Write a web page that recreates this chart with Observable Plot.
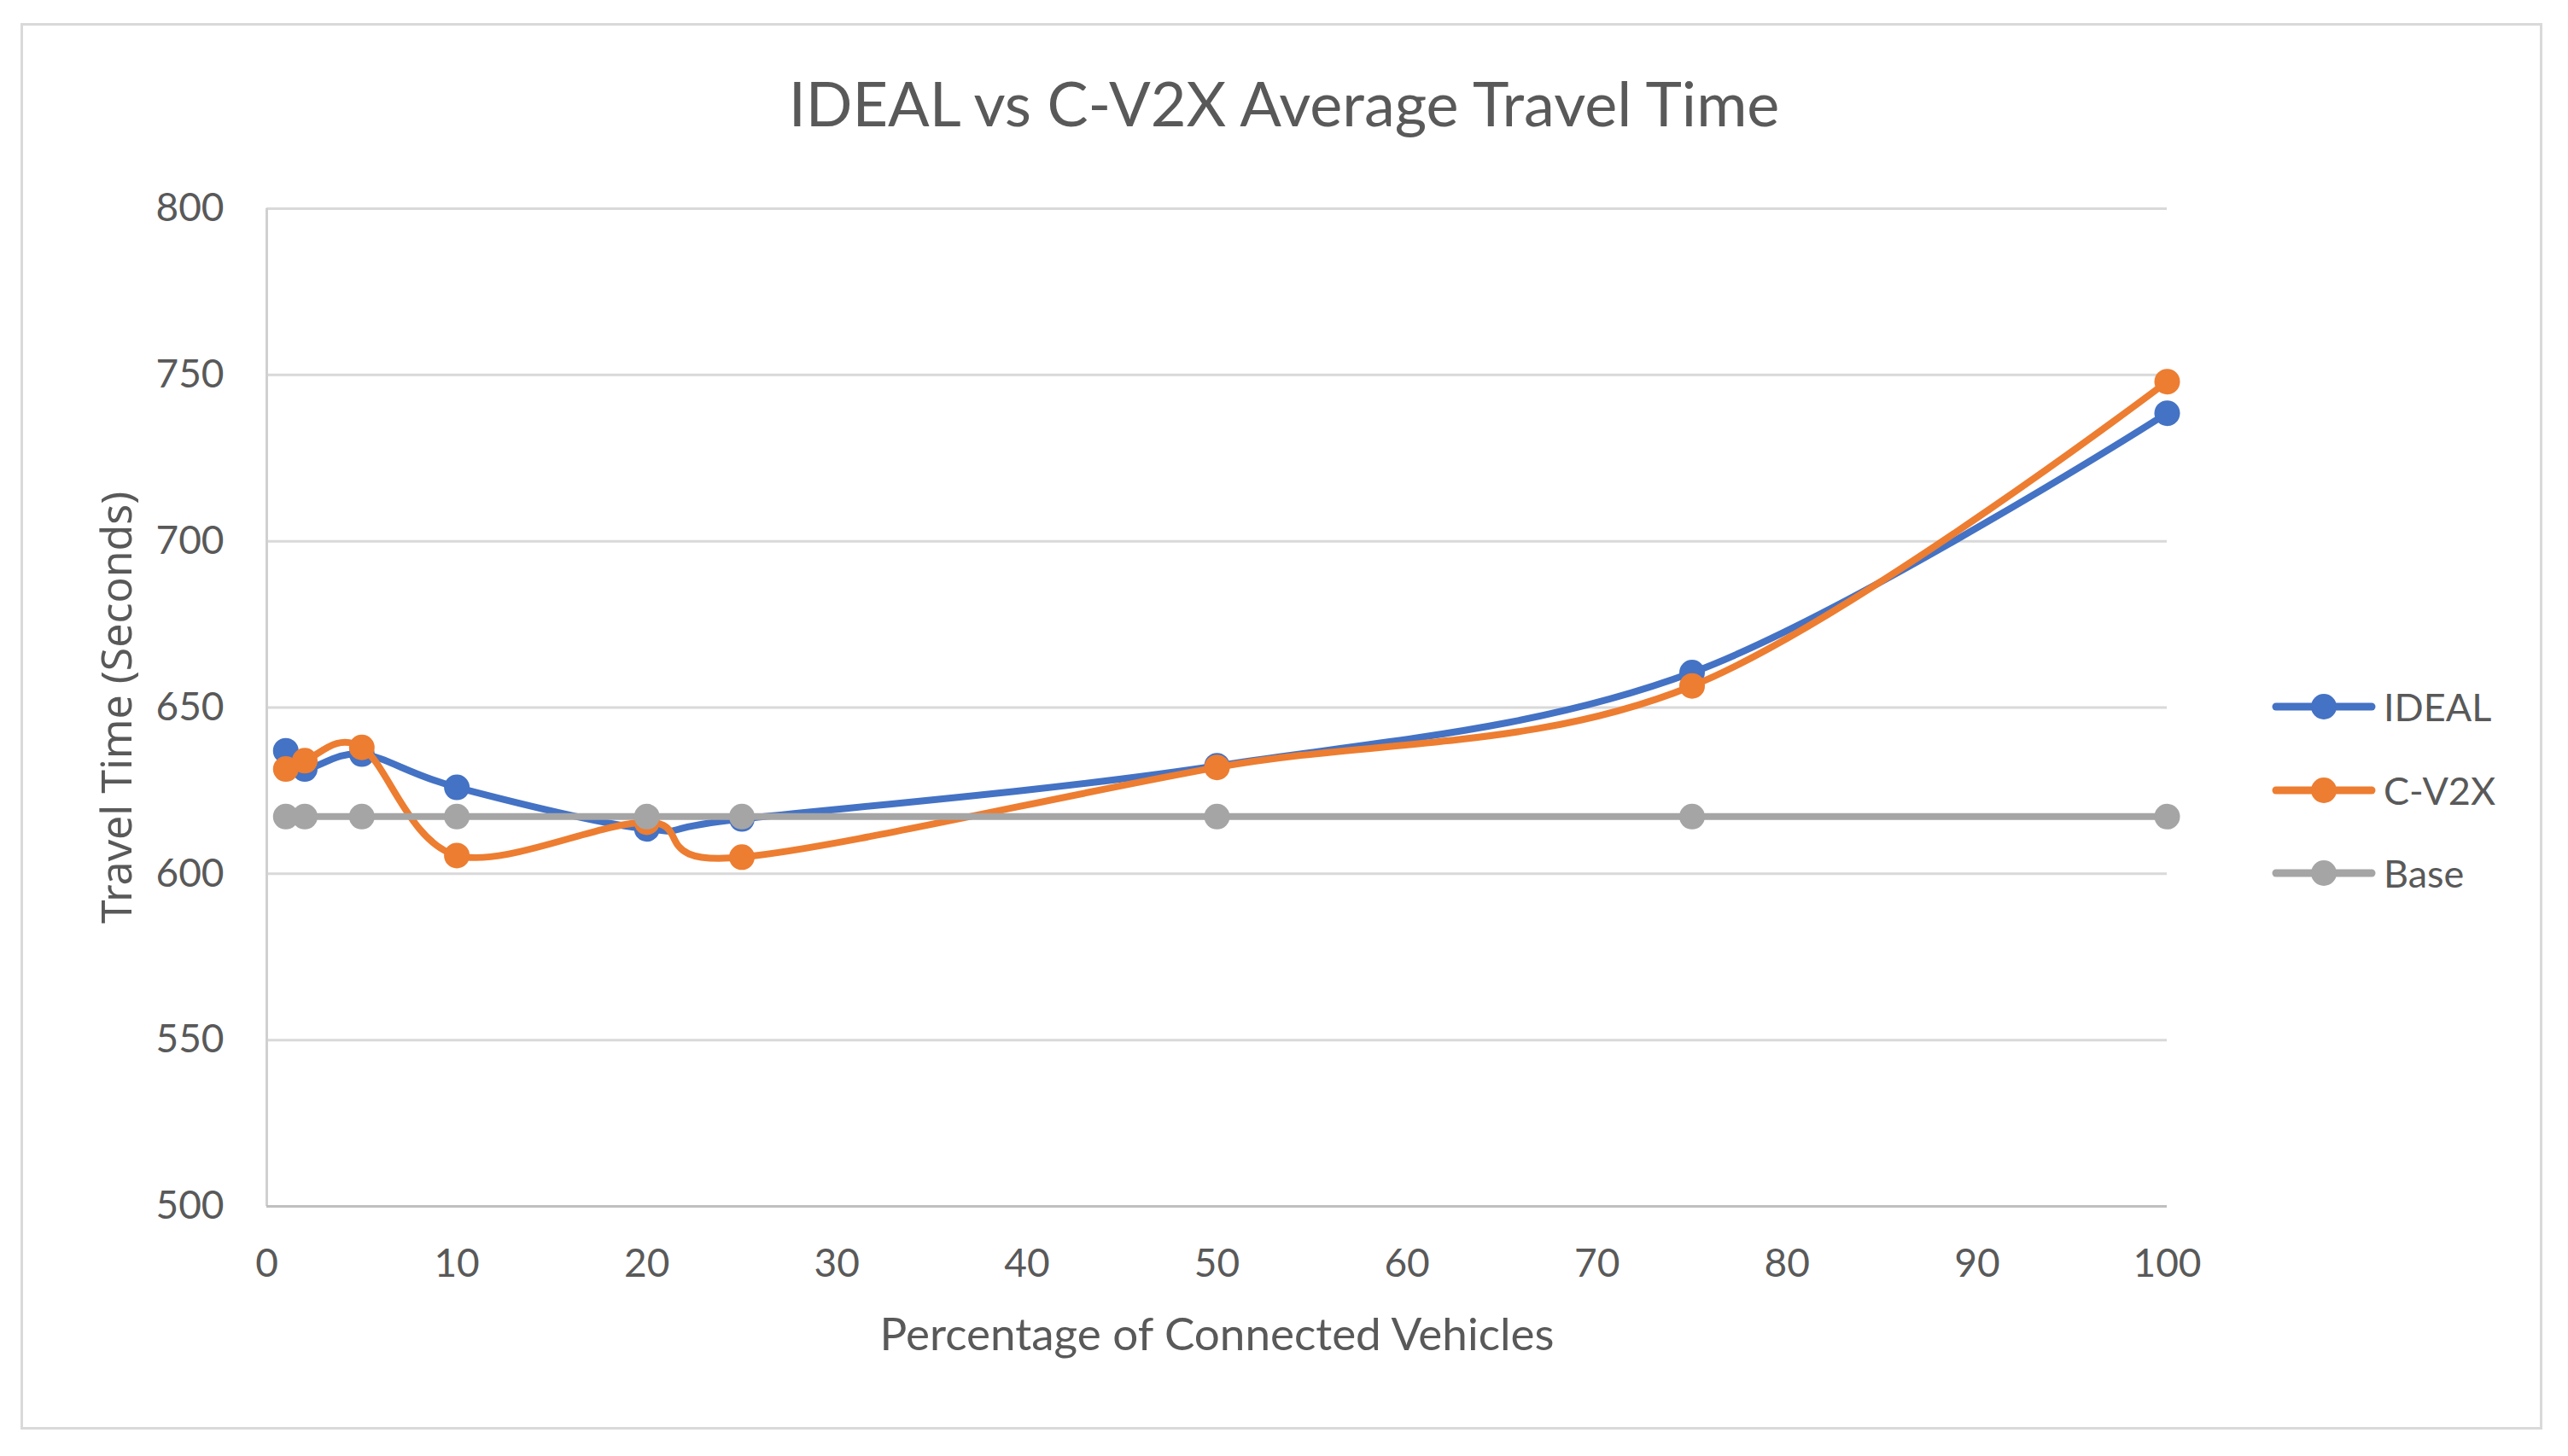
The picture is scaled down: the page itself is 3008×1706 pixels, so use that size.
<!DOCTYPE html>
<html>
<head>
<meta charset="utf-8">
<script src="https://cdn.jsdelivr.net/npm/d3@7"></script>
<script src="https://cdn.jsdelivr.net/npm/@observablehq/plot@0.6"></script>
<style>
  body { margin: 0; background: #fff; }
  #chart { position: relative; width: 3008px; height: 1706px; font-family: Lato, sans-serif; color: #595959; }
  #frame { position: absolute; left: 24px; top: 27px; width: 2948px; height: 1642px; border: 3px solid #d9d9d9; }
  #title { position: absolute; left: 0; width: 3008px; top: 76px; text-align: center; font-size: 72px; line-height: 88px; }
  #plot { position: absolute; left: 0; top: 0; }
  .key { position: absolute; left: 2660px; height: 40px; display: flex; align-items: center; font-size: 45px; }
  .key svg { margin-right: 8px; }
</style>
</head>
<body>
<div id="chart">
  <div id="frame"></div>
  <div id="title">IDEAL vs C-V2X Average Travel Time</div>
  <div id="plot"></div>
</div>
<script>
// percentage of connected vehicles
const pct = [1, 2, 5, 10, 20, 25, 50, 75, 100];
// average travel time, seconds
const ideal = [637, 631.5, 636, 626, 613.5, 616.5, 632.5, 660.5, 738.5];
const cv2x = [631.5, 634, 638, 605.5, 615.5, 605, 632, 656.5, 748];
const base = [617.2, 617.2, 617.2, 617.2, 617.2, 617.2, 617.2, 617.2, 617.2];

const seriesNames = ["IDEAL", "C-V2X", "Base"];
const seriesColors = ["#4472C4", "#ED7D31", "#A5A5A5"];
const xTicks = [0, 10, 20, 30, 40, 50, 60, 70, 80, 90, 100];
const yTicks = [500, 550, 600, 650, 700, 750, 800];

const xLabel = "Percentage of Connected Vehicles";
const yLabel = "Travel Time (Seconds)";

const rows = [ideal, cv2x, base].flatMap((vals, i) =>
    pct.map((p, j) => ({ series: seriesNames[i], pct: p, time: vals[j] }))
);

const seriesMarks = seriesNames.flatMap((name, i) => {
    const d = rows.filter((r) => r.series === name);
    return [
        Plot.line(d, { x: "pct", y: "time", stroke: seriesColors[i], strokeWidth: 8, curve: "cardinal", strokeLinecap: "round" }),
        Plot.dot(d, { x: "pct", y: "time", fill: seriesColors[i], r: 15 }),
    ];
});

const chart = Plot.plot({
    width: 3008,
    height: 1706,
    marginLeft: 312,
    marginRight: 470,
    marginTop: 244,
    marginBottom: 293,
    style: { fontFamily: "Lato, sans-serif", background: "transparent", color: "#595959" },
    x: { domain: [0, 100] },
    y: { domain: [500, 800] },
    marks: [
        Plot.gridY(yTicks, { stroke: "#d9d9d9", strokeWidth: 3, strokeOpacity: 1 }),
        Plot.ruleX([0], { stroke: "#d0d0d0", strokeWidth: 3 }),
        Plot.ruleY([500], { stroke: "#bfbfbf", strokeWidth: 3 }),
        Plot.axisY(yTicks, { tickSize: 0, tickPadding: 50, fontSize: 46, fill: "#595959", label: null }),
        Plot.axisX(xTicks, { tickSize: 0, tickPadding: 50, fontSize: 46, fill: "#595959", label: null }),
        Plot.text([xLabel], { frameAnchor: "bottom", dy: 168, fontSize: 53, fill: "#595959" }),
        Plot.text([yLabel], { frameAnchor: "left", dx: -175, rotate: -90, textAnchor: "middle", fontSize: 50, fill: "#595959", fontFamily: "Noto Sans, sans-serif" }),
        ...seriesMarks,
    ],
});
document.getElementById("plot").appendChild(chart);

// legend on the right
const keyTops = [808, 906, 1003];
seriesNames.forEach((name, i) => {
    const el = document.createElement("div");
    el.className = "key";
    el.style.top = keyTops[i] + "px";
    el.innerHTML =
        `<svg width="124" height="40"><line x1="6" x2="118" y1="20" y2="20" stroke="${seriesColors[i]}" stroke-width="9" stroke-linecap="round"/>` +
        `<circle cx="62" cy="20" r="15" fill="${seriesColors[i]}"/></svg><span>${name}</span>`;
    document.getElementById("chart").appendChild(el);
});
</script>
</body>
</html>
